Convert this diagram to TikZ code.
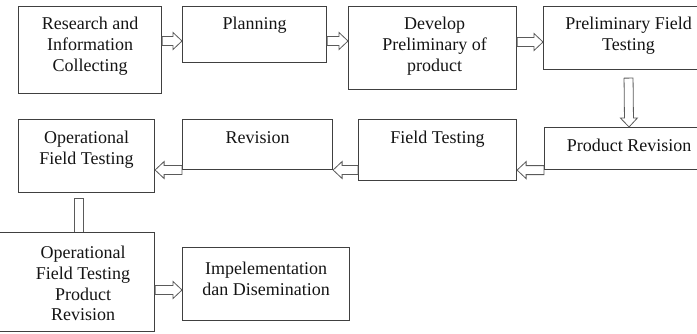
\documentclass[tikz,border=0pt]{standalone}
\usepackage{fontspec}
\setmainfont{Liberation Serif}
\usetikzlibrary{calc}
\definecolor{boxc}{HTML}{404040}
\definecolor{arrc}{HTML}{5A5A5A}
\definecolor{txtc}{HTML}{141414}
\begin{document}
\begin{tikzpicture}[x=1pt,y=1pt,
  box/.style={draw=boxc, line width=1.1pt, inner sep=0pt, anchor=north west},
  lbl/.style={anchor=north, align=center, inner sep=0pt, font=\fontsize{18}{20.7}\selectfont, text=txtc},
  hollow/.style={draw=arrc, line width=0.8pt, line join=miter, to path={
    let \p1=(\tikztostart), \p2=(\tikztotarget),
        \n1={atan2(\y2-\y1,\x2-\x1)}, \n2={veclen(\x2-\x1,\y2-\y1)-9} in
    ($(\p1)+(\n1+90:4.5)$) -- ($(\p1)+(\n1+90:4.5)+(\n1:\n2)$)
    -- ($(\p1)+(\n1+90:8.5)+(\n1:\n2)$) -- (\p2)
    -- ($(\p1)+(\n1-90:8.5)+(\n1:\n2)$) -- ($(\p1)+(\n1-90:4.5)+(\n1:\n2)$)
    -- ($(\p1)+(\n1-90:4.5)$) -- cycle}},
  hollowbar/.style={draw=arrc, line width=0.8pt, to path={
    let \p1=(\tikztostart), \p2=(\tikztotarget),
        \n1={atan2(\y2-\y1,\x2-\x1)} in
    ($(\p2)+(\n1+90:4.5)$) -- ($(\p1)+(\n1+90:4.5)$)
    -- ($(\p1)+(\n1-90:4.5)$) -- ($(\p2)+(\n1-90:4.5)$)}}
]
\useasboundingbox (0,0) rectangle (697,-333);

% boxes
\node[box, minimum width=143pt, minimum height=87pt] (b1) at (18,-6) {};
\node[box, minimum width=144pt, minimum height=56pt] (b2) at (182,-6) {};
\node[box, minimum width=168pt, minimum height=83pt] (b3) at (348,-6) {};
\node[box, minimum width=170pt, minimum height=63pt] (b4) at (543,-6) {};
\node[box, minimum width=136pt, minimum height=73pt] (b5) at (18,-119) {};
\node[box, minimum width=150pt, minimum height=50pt] (b6) at (182,-119) {};
\node[box, minimum width=158pt, minimum height=61pt] (b7) at (358,-119) {};
\node[box, minimum width=169pt, minimum height=42pt] (b8) at (544,-127) {};
\node[box, minimum width=160pt, minimum height=99pt] (b9) at (-6,-232) {};
\node[box, minimum width=167pt, minimum height=73pt] (b10) at (182,-247) {};

% labels
\node[lbl] (t1) at ([yshift=-11pt]b1.north) {Research and\\Information\\Collecting};
\node[lbl] (t2) at ([yshift=-11pt]b2.north) {Planning};
\node[lbl] (t3) at ([xshift=2pt,yshift=-11pt]b3.north) {Develop\\Preliminary of\\product};
\node[lbl] (t4) at ([yshift=-11pt]b4.north) {Preliminary Field\\Testing};
\node[lbl] (t5) at ([yshift=-12pt]b5.north) {Operational\\Field Testing};
\node[lbl] (t6) at ([yshift=-12pt]b6.north) {Revision};
\node[lbl] (t7) at ([yshift=-12pt]b7.north) {Field Testing};
\node[lbl] (t8) at ([yshift=-12pt]b8.north) {Product Revision};
\node[lbl] (t9) at ([xshift=8.5pt,yshift=-14pt]b9.north) {Operational\\Field Testing\\Product\\Revision};
\node[lbl] (t10) at ([yshift=-15pt]b10.north) {Impelementation\\dan Disemination};

% connectors
\draw[hollow] (b1.east |- 0,-41) to (b2.west |- 0,-41);
\draw[hollow] (b2.east |- 0,-41) to (b3.west |- 0,-41);
\draw[hollow] (b3.east |- 0,-42) to (b4.west |- 0,-42);
\draw[hollow] ([yshift=-8pt]b4.south) to (b8.north);
\draw[hollow] (b8.south west) to (b7.east |- b8.south west);
\draw[hollow] (b7.west |- 0,-170) to (b6.east |- 0,-170);
\draw[hollow] (b6.west |- 0,-170) to (b5.east |- 0,-170);
\coordinate (c5) at (78.5,-198);
\draw[hollowbar] (c5) to (c5 |- b9.north);
\draw[hollow] (b9.east |- 0,-290) to (b10.west |- 0,-290);
\end{tikzpicture}
\end{document}
